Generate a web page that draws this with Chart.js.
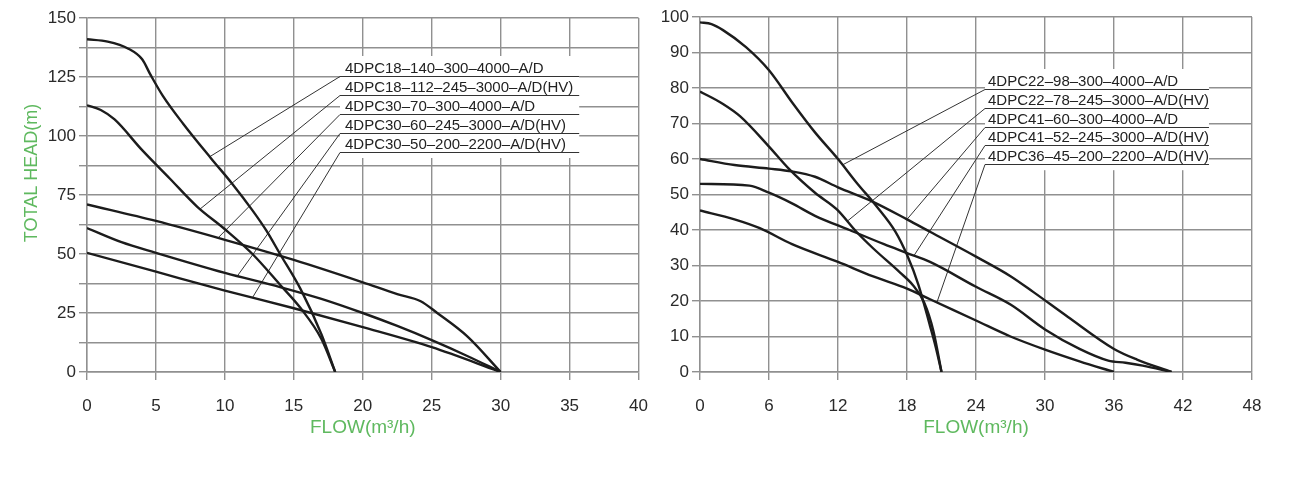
<!DOCTYPE html>
<html>
<head>
<meta charset="utf-8">
<script src="https://cdn.jsdelivr.net/npm/chart.js@4.4.1/dist/chart.umd.min.js"></script>
<style>
  body { margin: 0; background: #fff; width: 1316px; height: 477px; overflow: hidden; position: relative; }
  canvas { position: absolute; top: 0; }
  #left { left: 0; }
  #right { left: 650px; }
</style>
</head>
<body>
<canvas id="left" width="664" height="477"></canvas>
<canvas id="right" width="666" height="477"></canvas>
<script>
const FONT = "'Liberation Sans', Arial, Helvetica, sans-serif";
const GREEN = "#5fb95f";
const GRID = "#909090";
const CURVE = "#1c1c1c";

// ---- left chart: 4DPC18 / 4DPC30 ----
const leftModels = [
  "4DPC18–140–300–4000–A/D",
  "4DPC18–112–245–3000–A/D(HV)",
  "4DPC30–70–300–4000–A/D",
  "4DPC30–60–245–3000–A/D(HV)",
  "4DPC30–50–200–2200–A/D(HV)"
];
// [flow m3/h, head m]
const c18_140 = [[0,141],[1.5,140],[3,137],[4,132.5],[4.6,126],[5.5,117],[7,105],[9,90.5],[10.5,80],[12,68.5],[13,60],[14,50],[15.5,35],[17,16],[18,0]];
const c18_112 = [[0,113],[1,111],[2,107],[4,94],[6,82],[8,70],[10,60.5],[12,50],[14,37],[15.5,27],[17,14],[18,0]];
const c30_70 = [[0,71],[5,64],[10,56],[15,47.5],[20,38],[22.5,33],[24.2,30],[25.4,25],[27.6,15],[30,0]];
const c30_60 = [[0,61],[2.5,55],[5,50.5],[10,42],[14,36],[17,31],[20,25],[22.5,19.5],[25,13.5],[27.5,7],[30,0]];
const c30_50 = [[0,50.5],[5,42.5],[10,34.5],[15,27],[20,19],[25,10.5],[30,0]];
const leftPointerFlow = [8.9, 8.2, 9.5, 10.9, 12.0];
const leftFlowTicks = [0, 5, 10, 15, 20, 25, 30, 35, 40];
const leftHeadTicks = [0, 25, 50, 75, 100, 125, 150];

// ---- right chart: 4DPC22 / 4DPC41 / 4DPC36 ----
const rightModels = [
  "4DPC22–98–300–4000–A/D",
  "4DPC22–78–245–3000–A/D(HV)",
  "4DPC41–60–300–4000–A/D",
  "4DPC41–52–245–3000–A/D(HV)",
  "4DPC36–45–200–2200–A/D(HV)"
];
const c22_98 = [[0,98.5],[1,98],[2,96.3],[4,91.5],[6,85],[8,76],[10,67.5],[12,60],[13.6,53.4],[15.4,46.5],[17,39.5],[18,33],[19,24.5],[20,13],[20.5,7],[21,0]];
const c22_78 = [[0,79],[2,75.5],[3.5,72],[6,63.5],[7.8,57],[10,50.5],[11.9,45.8],[13.6,39.5],[15,35],[17.4,28],[18.5,24.5],[19.5,19.5],[20.3,11.5],[21,0]];
const c41_60 = [[0,60],[3,58.3],[6,57.3],[8,56.5],[10,55],[12,52],[15,48],[18,43],[20,39.5],[24,32.5],[27,27],[29,22.5],[32,15.5],[36,6.5],[38,3.5],[41,0]];
const c41_52 = [[0,53],[4.3,52.5],[6,50.5],[8,47.5],[10,44],[13,40],[16,36],[18,33.5],[20,31],[24,24],[27,19],[30,12],[33,6.5],[35.5,3.2],[37,2.6],[38.5,1.8],[41,0]];
const c36_45 = [[0,45.5],[3,43],[5.2,40.5],[8,36],[12,31],[15,27],[18,23.5],[20,20.5],[24,14.5],[27,10],[30,6.3],[33,3],[36,0]];
const rightPointerFlow = [12.4, 12.8, 18.0, 18.6, 20.6];
const rightFlowTicks = [0, 6, 12, 18, 24, 30, 36, 42, 48];
const rightHeadTicks = [0, 10, 20, 30, 40, 50, 60, 70, 80, 90, 100];

function headAt(points, q) {
  for (let i = 1; i < points.length; i++) {
    const a = points[i - 1], b = points[i];
    if (q <= b.x) return a.y + (b.y - a.y) * (q - a.x) / (b.x - a.x);
  }
  return points[points.length - 1].y;
}

// model labels with leader lines to their curves
const callouts = {
  id: "callouts",
  beforeDatasetsDraw(chart, args, opts) {
    const { ctx, chartArea, scales: { x, y } } = chart;
    ctx.save();
    ctx.font = "15px " + FONT;
    const left = chartArea.left + opts.dx;
    const top = chartArea.top + opts.dy;
    const maxW = Math.max(...opts.labels.map(t => ctx.measureText(t).width));
    const len = opts.indent + maxW + opts.tail;

    // labels sit on a white patch that hides the grid
    ctx.fillStyle = "#fff";
    ctx.fillRect(left, top - 20, len, opts.step * (opts.labels.length - 1) + 26);

    ctx.strokeStyle = "#333";
    ctx.lineWidth = 1;
    opts.labels.forEach((t, i) => {
      const ly = Math.round(top + i * opts.step) + 0.5;
      const pts = chart.data.datasets[i].data;
      const px = x.getPixelForValue(opts.flows[i]);
      const py = y.getPixelForValue(headAt(pts, opts.flows[i]));
      ctx.beginPath();
      ctx.moveTo(px, py);
      ctx.lineTo(left, ly);
      ctx.lineTo(left + len, ly);
      ctx.stroke();
      ctx.fillStyle = "#222";
      ctx.textBaseline = "alphabetic";
      ctx.fillText(t, left + opts.indent, ly - 3.5);
    });
    ctx.restore();
  }
};

const sideTitle = {
  id: "sideTitle",
  afterDraw(chart, args, opts) {
    if (!opts.text) return;
    const { ctx } = chart;
    ctx.save();
    ctx.translate(opts.x, opts.y);
    ctx.rotate(-Math.PI / 2);
    ctx.font = "18px " + FONT;
    ctx.fillStyle = GREEN;
    ctx.textAlign = "center";
    ctx.textBaseline = "middle";
    ctx.fillText(opts.text, 0, 0);
    ctx.restore();
  }
};

function buildChart(id, curves, flowTicks, headTicks, headStep, axisW, pad, calloutOpts, titleOpts) {
  const datasets = curves.map(c => ({
    data: c.map(([f, h]) => ({ x: f, y: h })),
    borderColor: CURVE,
    borderWidth: 2.4,
    pointRadius: 0,
    fill: false,
    cubicInterpolationMode: "monotone"
  }));
  const tickFont = { family: FONT, size: 17 };
  const grid = { color: GRID, lineWidth: 1.4, tickLength: 8, tickColor: GRID };
  return new Chart(document.getElementById(id), {
    type: "line",
    data: { datasets },
    plugins: [callouts, sideTitle],
    options: {
      responsive: false,
      animation: false,
      layout: { padding: pad },
      scales: {
        x: {
          type: "linear",
          min: flowTicks[0],
          max: flowTicks[flowTicks.length - 1],
          grid,
          border: { color: GRID, width: 1.4 },
          ticks: { stepSize: flowTicks[1] - flowTicks[0], font: tickFont, color: "#2a2a2a", padding: 16, maxRotation: 0 },
          title: { display: true, text: "FLOW(m³/h)", color: GREEN, font: { family: FONT, size: 19 }, padding: { top: 0, bottom: 0 } },
          afterFit: s => { s.height = 105 - pad.bottom; }
        },
        y: {
          min: headTicks[0],
          max: headTicks[headTicks.length - 1],
          grid,
          border: { color: GRID, width: 1.4 },
          ticks: {
            stepSize: headStep,
            autoSkip: false,
            font: tickFont,
            color: "#2a2a2a",
            padding: 3,
            callback: v => headTicks.includes(v) ? v : ""
          },
          afterFit: s => { s.width = axisW; }
        }
      },
      plugins: {
        legend: { display: false },
        tooltip: { enabled: false },
        callouts: calloutOpts,
        sideTitle: titleOpts
      }
    }
  });
}

buildChart("left",
  [c18_140, c18_112, c30_70, c30_60, c30_50],
  leftFlowTicks, leftHeadTicks, 12.5, 87,
  { left: 0, right: 0, top: 18, bottom: 38 },
  { labels: leftModels, flows: leftPointerFlow, dx: 253, dy: 58, step: 19, indent: 5, tail: 6 },
  { text: "TOTAL HEAD(m)", x: 32, y: 173 }
);

buildChart("right",
  [c22_98, c22_78, c41_60, c41_52, c36_45],
  rightFlowTicks, rightHeadTicks, 10, 50,
  { left: 0, right: 64, top: 17, bottom: 38 },
  { labels: rightModels, flows: rightPointerFlow, dx: 285, dy: 72, step: 18.8, indent: 3, tail: 0 },
  { text: "" }
);
</script>
</body>
</html>
